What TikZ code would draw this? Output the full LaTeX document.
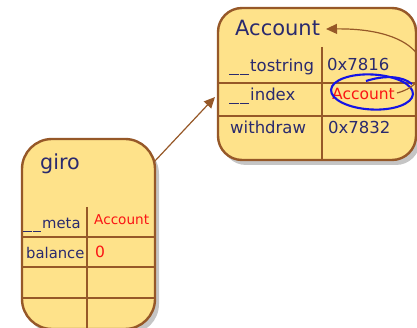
\documentclass[tikz,border=0pt]{standalone}
\usepackage{fontspec}
\setmainfont{DejaVu Sans}
\usetikzlibrary{shadows,shapes.geometric,arrows.meta}
\definecolor{boxfill}{RGB}{254,226,138}
\definecolor{boxline}{RGB}{150,88,40}
\definecolor{navy}{RGB}{42,42,110}
\definecolor{redtxt}{RGB}{250,20,20}
\definecolor{hlblue}{RGB}{20,20,230}
\newcommand{\us}[1]{\rule[-2.4pt]{#1}{0.75pt}\hspace{1pt}}
\tikzset{
  tbox/.style={draw=boxline, line width=2.4pt, fill=boxfill, rounded corners=24pt,
    drop shadow={shadow xshift=4pt, shadow yshift=-5pt, fill=black!45, opacity=0.5},
    inner sep=0pt},
  tline/.style={draw=boxline, line width=2pt},
  title/.style={anchor=base west, inner sep=0pt, text=navy, font=\fontsize{21}{24}\selectfont},
  key/.style={anchor=base west, inner sep=0pt, text=navy, font=\fontsize{16.5}{19}\selectfont},
  val/.style={anchor=base west, inner sep=0pt, text=navy, font=\fontsize{16.5}{19}\selectfont},
  rval/.style={anchor=base west, inner sep=0pt, text=redtxt, font=\fontsize{15.5}{18}\selectfont},
  skey/.style={anchor=base west, inner sep=0pt, text=navy, font=\fontsize{14.8}{17}\selectfont},
  srval/.style={anchor=base west, inner sep=0pt, text=redtxt, font=\fontsize{13.6}{16}\selectfont},
  conn/.style={draw=boxline, line width=1.2pt, -{Triangle[length=11pt,width=10pt]}},
  hlpen/.style={hlblue, line width=2.1pt},
}
\begin{document}
\begin{tikzpicture}[x=1pt,y=-1pt]
\useasboundingbox (0,0) rectangle (417,328);
\clip (0,0) rectangle (417,328);
% Account box
\node[tbox, minimum width=198pt, minimum height=152pt] (acc) at (317,84) {};
\draw[tline] (218,83) -- (416,83);
\draw[tline] (218,116) -- (416,116);
\draw[tline] (322,47) -- (322,159);
\node[title] (acct) at (235,36) {Account};
\node[key] (k1) at (229,72) {\us{9.5pt}\us{9.5pt}tostring};
\node[val] (v1) at (327,71) {0x7816};
\node[key] (k2) at (229,101) {\us{9.5pt}\us{9.5pt}index};
\node[rval] (v2) at (332,100) {Account};
\node[key] (k3) at (230,134) {withdraw};
\node[val] (v3) at (328,134) {0x7832};
% giro box
\node[tbox, rounded corners=30pt, minimum width=133pt, minimum height=190pt] (giro) at (88.5,234) {};
\draw[tline] (23,237) -- (154,237);
\draw[tline] (23,267) -- (154,267);
\draw[tline] (23,298) -- (154,298);
\draw[tline] (87,207) -- (87,328);
\node[title, font=\fontsize{20.7}{24}\selectfont] (girot) at (40,170) {giro};
\node[skey] (gk1) at (23,229) {\us{8.5pt}\us{8.5pt}meta};
\node[srval] (gv1) at (94,225) {Account};
\node[skey] (gk2) at (26,259) {balance};
\node[rval] (gv2) at (95,258) {0};
% highlight
\node[ellipse, draw=hlblue, line width=2.1pt, minimum width=82pt, minimum height=35pt, inner sep=0pt, rotate=-3] (hl) at (372,92) {};
\draw[hlpen] (366,81) .. controls (385,75) and (402,76) .. (412,84);
% connectors
\coordinate (gstart) at (154,162);
\coordinate (aleft) at (215,97);
\draw[conn] (gstart) -- (aleft);
\coordinate (vend) at (397,93);
\coordinate (ttip) at (326,29);
\draw[conn] (vend) .. controls (440,82) and (432,28) .. (ttip);
\end{tikzpicture}
\end{document}
